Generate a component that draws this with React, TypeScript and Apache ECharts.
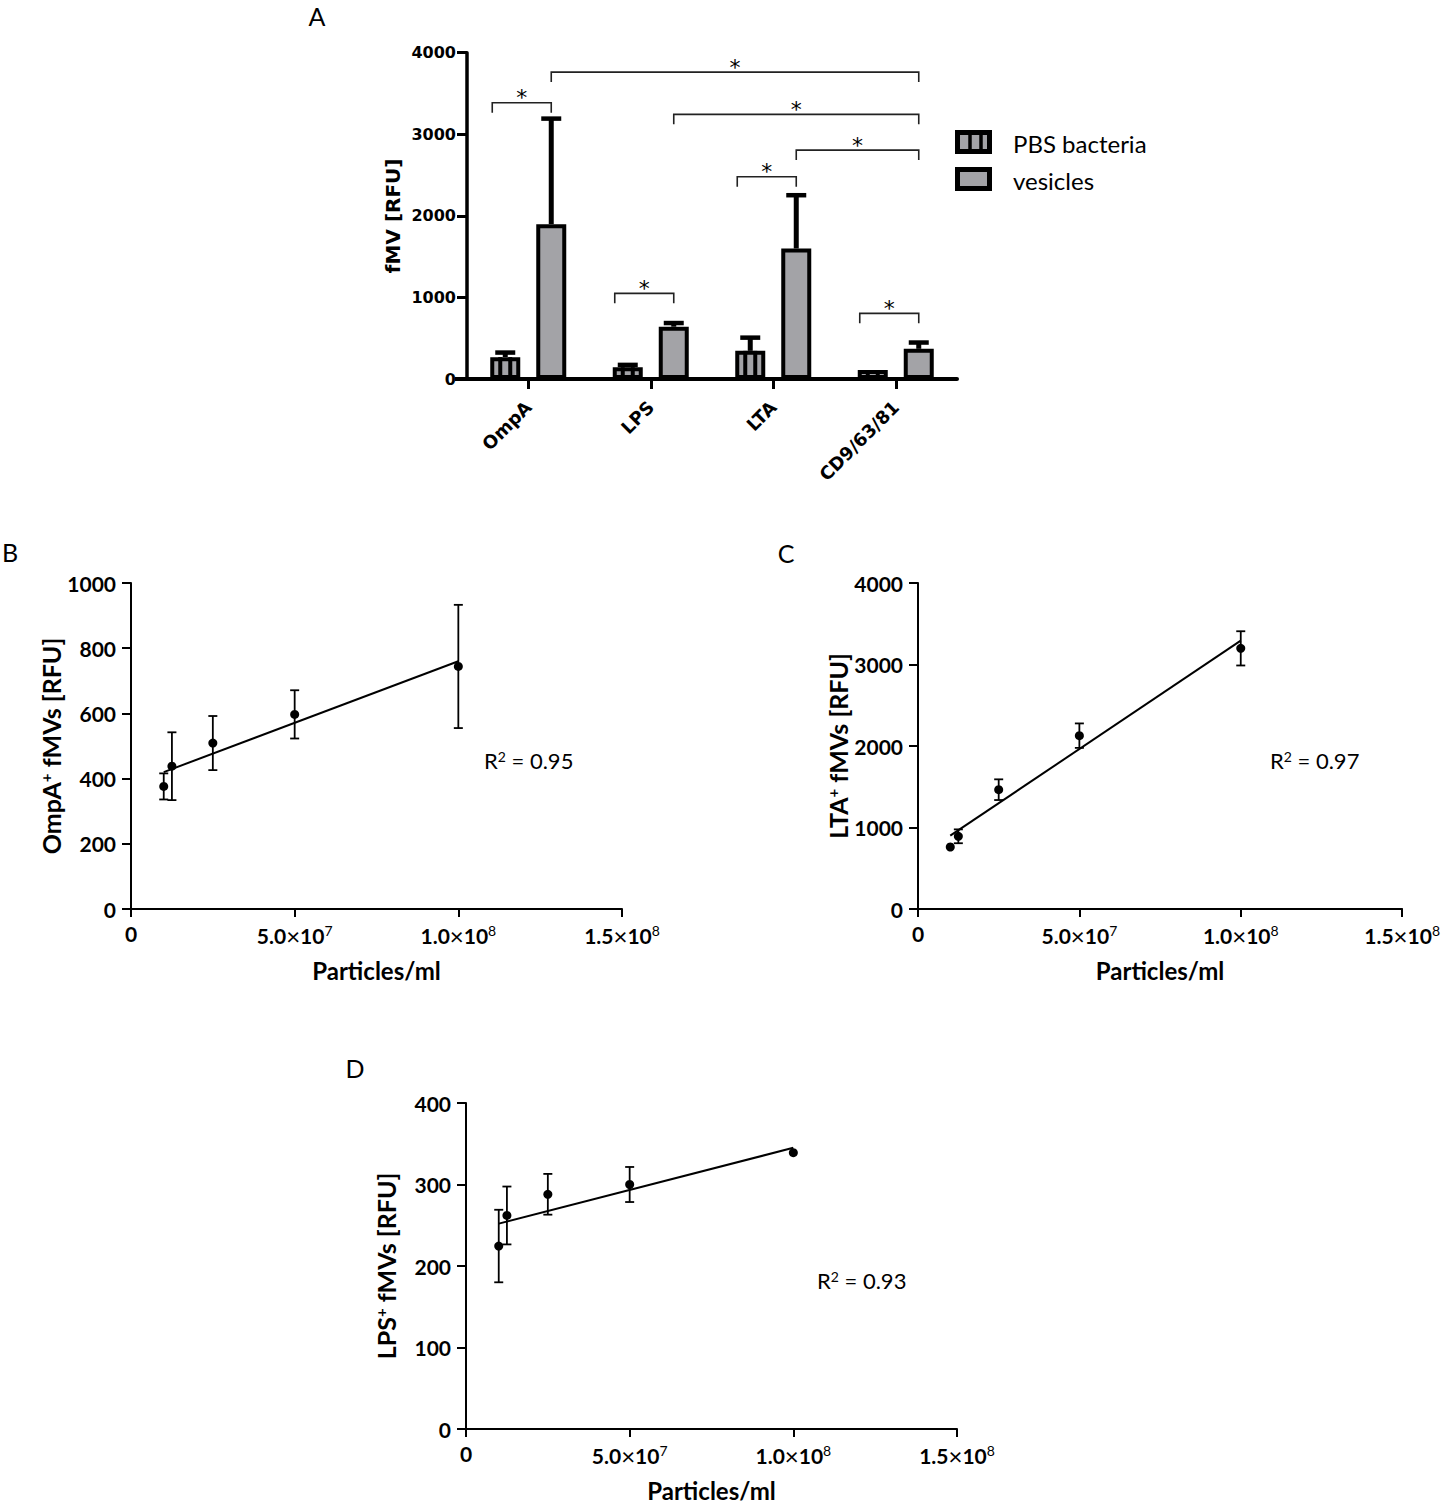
import React, { useEffect, useRef } from "react";
import * as echarts from "echarts";

// ---------- Panel A data ----------
const categories = ["OmpA", "LPS", "LTA", "CD9/63/81"];
const groupNames = ["PBS bacteria", "vesicles"];
const pbsMean = [268, 145, 345, 110];
const pbsSd = [56, 28, 162, 0];
const vesMean = [1898, 641, 1600, 370];
const vesSd = [1294, 45, 653, 77];
// significance brackets: [fromCategory, fromGroup, toCategory, toGroup, height]
const brackets = [
  [0, 0, 0, 1, 3386],
  [0, 1, 3, 1, 3762],
  [1, 1, 3, 1, 3244],
  [2, 1, 3, 1, 2806],
  [2, 0, 2, 1, 2479],
  [1, 0, 1, 1, 1050],
  [3, 0, 3, 1, 805],
];
const yMaxA = 4000;
const yStepA = 1000;

// ---------- Panels B-D data ----------
const particles = [1e7, 1.25e7, 2.5e7, 5e7, 1e8];
const ompaMean = [376, 438, 509, 597, 744];
const ompaSd = [40, 104, 83, 74, 189];
const ompaFit = [
  [1e7, 420],
  [1e8, 760],
];
const ltaMean = [761, 892, 1464, 2127, 3198];
const ltaSd = [0, 85, 127, 150, 210];
const ltaFit = [
  [1e7, 900],
  [1e8, 3292],
];
const lpsMean = [224.5, 262, 288, 300, 339];
const lpsSd = [44.5, 35.5, 25, 21.5, 0];
const lpsFit = [
  [1e7, 252],
  [1e8, 345],
];
const r2Values = ["0.95", "0.97", "0.93"];
const xTicks = [0, 5e7, 1e8, 1.5e8];
const xTickMantissa = ["0", "5.0", "1.0", "1.5"];
const xTickExponent = ["", "7", "8", "8"];

const GRAY = "#a3a3a7";
const BAR_OFFSET = 23; // px from category centre to each bar centre
const BAR_WIDTH = 30;

const plain = (v: number) => String(v);

function xTickFormatter(v: number) {
  const i = xTicks.findIndex((t) => Math.abs(t - v) < 1);
  if (i < 0) return "";
  if (!xTickExponent[i]) return `{m|${xTickMantissa[i]}}`;
  return `{m|${xTickMantissa[i]}}{x|×}{m|10}{s|${xTickExponent[i]}}`;
}

const xRich = {
  m: { fontFamily: "Lato", fontWeight: "bold", fontSize: 21, color: "#000" },
  x: { fontFamily: "Lato", fontWeight: "normal", fontSize: 24, color: "#000" },
  s: { fontFamily: "Lato", fontWeight: "normal", fontSize: 14, color: "#000", verticalAlign: "top", lineHeight: 12 },
};

function scatterAxes(grid: number, yMax: number, yStep: number, yName: string) {
  const x = {
    type: "value",
    gridIndex: grid,
    min: 0,
    max: 1.5e8,
    interval: 5e7,
    splitLine: { show: false },
    axisLine: { show: true, onZero: false, lineStyle: { color: "#000", width: 2 } },
    axisTick: { show: true, length: 8, lineStyle: { color: "#000", width: 2 } },
    axisLabel: { margin: 14, color: "#000", formatter: xTickFormatter, rich: xRich },
    name: "Particles/ml",
    nameLocation: "middle",
    nameGap: 49,
    nameTextStyle: { fontFamily: "Lato", fontWeight: "bold", fontSize: 24, color: "#000" },
  };
  const y = {
    type: "value",
    gridIndex: grid,
    min: 0,
    max: yMax,
    interval: yStep,
    splitLine: { show: false },
    axisLine: { show: true, onZero: false, lineStyle: { color: "#000", width: 2 } },
    axisTick: { show: true, length: 9, lineStyle: { color: "#000", width: 2 } },
    axisLabel: { margin: 15, color: "#000", fontFamily: "Lato", fontWeight: "bold", fontSize: 21, formatter: plain },
    name: yName,
    nameLocation: "middle",
    nameGap: 68,
    nameTextStyle: {
      fontFamily: "Lato",
      fontWeight: "bold",
      fontSize: 25,
      color: "#000",
      rich: {
        b: { fontFamily: "Lato", fontWeight: "bold", fontSize: 25, color: "#000" },
        sup: { fontFamily: "Lato", fontWeight: "bold", fontSize: 15, color: "#000", verticalAlign: "top", lineHeight: 14 },
      },
    },
  };
  return { x, y };
}

function scatterSeries(axisIndex: number, mean: number[], sd: number[], fit: number[][]) {
  return [
    {
      type: "custom",
      xAxisIndex: axisIndex,
      yAxisIndex: axisIndex,
      data: particles.map((p, i) => [p, mean[i], sd[i]]),
      encode: { x: 0, y: 1 },
      silent: true,
      renderItem: (_params: any, api: any) => {
        const sdv = api.value(2);
        if (!sdv) return { type: "group", children: [] };
        const xv = api.value(0);
        const m = api.value(1);
        const top = api.coord([xv, m + sdv]);
        const bot = api.coord([xv, m - sdv]);
        const w = 4.5;
        const st = { stroke: "#000", lineWidth: 1.8 };
        return {
          type: "group",
          children: [
            { type: "line", shape: { x1: top[0], y1: top[1], x2: bot[0], y2: bot[1] }, style: st },
            { type: "line", shape: { x1: top[0] - w, y1: top[1], x2: top[0] + w, y2: top[1] }, style: st },
            { type: "line", shape: { x1: bot[0] - w, y1: bot[1], x2: bot[0] + w, y2: bot[1] }, style: st },
          ],
        };
      },
      z: 3,
    },
    {
      type: "line",
      xAxisIndex: axisIndex,
      yAxisIndex: axisIndex,
      data: fit,
      showSymbol: false,
      symbol: "none",
      lineStyle: { color: "#000", width: 2 },
      silent: true,
      z: 4,
    },
    {
      type: "scatter",
      xAxisIndex: axisIndex,
      yAxisIndex: axisIndex,
      data: particles.map((p, i) => [p, mean[i]]),
      symbol: "circle",
      symbolSize: 9,
      itemStyle: { color: "#000", opacity: 1 },
      silent: true,
      z: 5,
    },
  ];
}

function buildOption() {
  const b = scatterAxes(1, 1000, 200, "{b|OmpA}{sup|+}{b| fMVs [RFU]}");
  const c = scatterAxes(2, 4000, 1000, "{b|LTA}{sup|+}{b| fMVs [RFU]}");
  const d = scatterAxes(3, 400, 100, "{b|LPS}{sup|+}{b| fMVs [RFU]}");

  const groupOffset = (g: number) => (g === 0 ? -BAR_OFFSET : BAR_OFFSET);
  const bracketOffset = (g: number) => (g === 0 ? -36 : BAR_OFFSET);

  const errData = [
    ...pbsMean.map((m, i) => [i, m, pbsSd[i], 0]),
    ...vesMean.map((m, i) => [i, m, vesSd[i], 1]),
  ];

  const panelLabel = (t: string, x: number, y: number) => ({
    type: "text",
    x,
    y,
    style: { text: t, fontFamily: "Lato", fontSize: 25, fill: "#000", align: "center", verticalAlign: "middle" },
  });
  const r2Label = (v: string, x: number, y: number) => ({
    type: "text",
    x,
    y,
    style: {
      text: `{r|R}{s|2}{r| = ${v}}`,
      fill: "#000",
      align: "left",
      verticalAlign: "middle",
      rich: {
        r: { fontFamily: "Lato", fontSize: 22, fill: "#000", color: "#000" },
        s: { fontFamily: "Lato", fontSize: 14, fill: "#000", color: "#000", verticalAlign: "top", lineHeight: 13 },
      },
    },
  });

  return {
    animation: false,
    backgroundColor: "#ffffff",
    grid: [
      { left: 467, top: 52.7, width: 490, height: 326.3 },
      { left: 131, top: 583, width: 491, height: 326 },
      { left: 918, top: 583, width: 491, height: 326 },
      { left: 466, top: 1103, width: 491, height: 326 },
    ],
    xAxis: [
      {
        type: "category",
        gridIndex: 0,
        data: categories,
        axisLine: { show: true, lineStyle: { color: "#000", width: 4 } },
        axisTick: { show: true, alignWithLabel: true, length: 10, lineStyle: { color: "#000", width: 3 } },
        axisLabel: {
          interval: 0,
          rotate: 45,
          margin: 25,
          color: "#000",
          fontFamily: "DejaVu Sans",
          fontWeight: "bold",
          fontSize: 18,
        },
      },
      b.x,
      c.x,
      d.x,
    ],
    yAxis: [
      {
        type: "value",
        gridIndex: 0,
        min: 0,
        max: yMaxA,
        interval: yStepA,
        splitLine: { show: false },
        axisLine: { show: true, lineStyle: { color: "#000", width: 3.5 } },
        axisTick: { show: true, length: 10, lineStyle: { color: "#000", width: 3 } },
        axisLabel: {
          margin: 11,
          color: "#000",
          fontFamily: "DejaVu Sans",
          fontWeight: "bold",
          fontSize: 16,
          formatter: plain,
        },
        name: "fMV [RFU]",
        nameLocation: "middle",
        nameGap: 64,
        nameTextStyle: { fontFamily: "DejaVu Sans", fontWeight: "bold", fontSize: 20, color: "#000" },
      },
      b.y,
      c.y,
      d.y,
    ],
    series: [
      {
        name: groupNames[0],
        type: "bar",
        xAxisIndex: 0,
        yAxisIndex: 0,
        data: pbsMean,
        barWidth: BAR_WIDTH,
        barGap: `${((2 * BAR_OFFSET - BAR_WIDTH) / BAR_WIDTH) * 100}%`,
        itemStyle: { color: GRAY, borderColor: "#000", borderWidth: 4 },
        silent: true,
        z: 2,
      },
      {
        name: groupNames[1],
        type: "bar",
        xAxisIndex: 0,
        yAxisIndex: 0,
        data: vesMean,
        barWidth: BAR_WIDTH,
        itemStyle: { color: GRAY, borderColor: "#000", borderWidth: 4 },
        silent: true,
        z: 2,
      },
      // stripes inside PBS bars
      {
        type: "custom",
        xAxisIndex: 0,
        yAxisIndex: 0,
        data: pbsMean.map((m, i) => [i, m]),
        encode: { x: 0, y: 1 },
        silent: true,
        z: 3,
        renderItem: (_p: any, api: any) => {
          const top = api.coord([api.value(0), api.value(1)]);
          const base = api.coord([api.value(0), 0]);
          const cx = top[0] - BAR_OFFSET;
          const st = { stroke: "#000", lineWidth: 4 };
          return {
            type: "group",
            children: [-5, 5].map((dx) => ({
              type: "line",
              shape: { x1: cx + dx, y1: top[1], x2: cx + dx, y2: base[1] },
              style: st,
            })),
          };
        },
      },
      // error bars (upper only)
      {
        type: "custom",
        xAxisIndex: 0,
        yAxisIndex: 0,
        data: errData,
        encode: { x: 0, y: 1 },
        silent: true,
        z: 3,
        renderItem: (_p: any, api: any) => {
          const sd = api.value(2);
          if (!sd) return { type: "group", children: [] };
          const m = api.value(1);
          const top = api.coord([api.value(0), m + sd]);
          const bot = api.coord([api.value(0), m]);
          const cx = top[0] + groupOffset(api.value(3));
          return {
            type: "group",
            children: [
              { type: "line", shape: { x1: cx, y1: bot[1], x2: cx, y2: top[1] }, style: { stroke: "#000", lineWidth: 5 } },
              { type: "line", shape: { x1: cx - 10, y1: top[1], x2: cx + 10, y2: top[1] }, style: { stroke: "#000", lineWidth: 4.5 } },
            ],
          };
        },
      },
      // significance brackets
      {
        type: "custom",
        xAxisIndex: 0,
        yAxisIndex: 0,
        data: brackets,
        encode: { x: 0, y: 4 },
        silent: true,
        z: 3,
        renderItem: (_p: any, api: any) => {
          const h = api.value(4);
          const p1 = api.coord([api.value(0), h]);
          const p2 = api.coord([api.value(2), h]);
          const x1 = p1[0] + bracketOffset(api.value(1));
          const x2 = p2[0] + bracketOffset(api.value(3));
          const y = p1[1];
          return {
            type: "group",
            children: [
              {
                type: "polyline",
                shape: { points: [[x1, y + 10], [x1, y], [x2, y], [x2, y + 10]] },
                style: { stroke: "#222", lineWidth: 1.6, fill: null },
              },
              {
                type: "text",
                style: {
                  text: "*",
                  x: (x1 + x2) / 2,
                  y: y - 5,
                  align: "center",
                  verticalAlign: "middle",
                  fontFamily: "DejaVu Sans",
                  fontSize: 22,
                  fill: "#000",
                },
              },
            ],
          };
        },
      },
      ...scatterSeries(1, ompaMean, ompaSd, ompaFit),
      ...scatterSeries(2, ltaMean, ltaSd, ltaFit),
      ...scatterSeries(3, lpsMean, lpsSd, lpsFit),
    ],
    graphic: [
      // small extension of the x-axis to the left of the y-axis (panel A)
      { type: "line", shape: { x1: 455, y1: 379, x2: 467, y2: 379 }, style: { stroke: "#000", lineWidth: 4 } },
      // legend panel A
      { type: "rect", shape: { x: 957.5, y: 132.5, width: 32, height: 19 }, style: { fill: GRAY, stroke: "#000", lineWidth: 5 } },
      { type: "line", shape: { x1: 970, y1: 132.5, x2: 970, y2: 151.5 }, style: { stroke: "#000", lineWidth: 3.5 } },
      { type: "line", shape: { x1: 981, y1: 132.5, x2: 981, y2: 151.5 }, style: { stroke: "#000", lineWidth: 3.5 } },
      { type: "rect", shape: { x: 957.5, y: 169.5, width: 32, height: 19 }, style: { fill: GRAY, stroke: "#000", lineWidth: 5 } },
      {
        type: "text",
        x: 1013,
        y: 143,
        style: { text: groupNames[0], fontFamily: "Lato", fontSize: 24, fill: "#000", verticalAlign: "middle" },
      },
      {
        type: "text",
        x: 1013,
        y: 180,
        style: { text: groupNames[1], fontFamily: "Lato", fontSize: 24, fill: "#000", verticalAlign: "middle" },
      },
      panelLabel("A", 317, 16),
      panelLabel("B", 10, 552),
      panelLabel("C", 786, 553),
      panelLabel("D", 355, 1068),
      r2Label(r2Values[0], 484, 760),
      r2Label(r2Values[1], 1270, 760),
      r2Label(r2Values[2], 817, 1280),
    ],
  };
}

export default function App() {
  const ref = useRef<HTMLDivElement | null>(null);
  useEffect(() => {
    if (!ref.current) return;
    const chart = echarts.init(ref.current, undefined, { renderer: "svg" });
    chart.setOption(buildOption() as any);
    return () => chart.dispose();
  }, []);
  return (
    <div
      ref={ref}
      style={{ position: "absolute", left: 0, top: 0, width: 1443, height: 1511, background: "#fff" }}
    />
  );
}
